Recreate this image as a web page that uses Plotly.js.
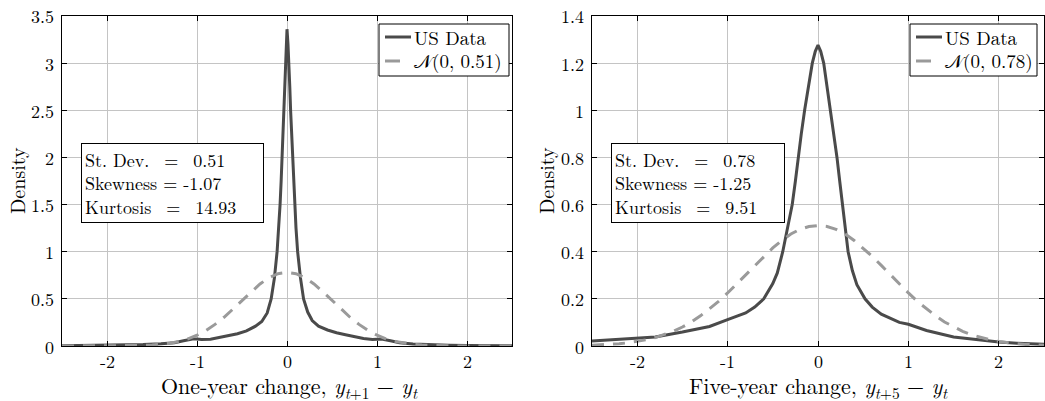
<!DOCTYPE html>
<html>
<head>
<meta charset="utf-8">
<script src="https://cdn.plot.ly/plotly-3.0.1.min.js"></script>
<style>
  html, body { margin: 0; padding: 0; background: #fff; }
  #chart { width: 1045px; height: 401px; }
  /* LaTeX-style serif face for every label in the figure */
  #chart svg text { font-family: 'Latin Modern Roman', 'Liberation Serif', serif !important; }
</style>
</head>
<body>
<div id="chart"></div>
<script>
// One-year change: empirical density
const oneYearX = [-2.5, -2.2, -2.0, -1.8, -1.6, -1.4, -1.25, -1.15, -1.05, -1.0, -0.95, -0.85, -0.75, -0.65, -0.55,
  -0.45, -0.35, -0.28, -0.22, -0.176, -0.14, -0.11, -0.09, -0.077, -0.065, -0.055, -0.045, -0.037, -0.027, -0.018,
  -0.009, 0, 0.011, 0.022, 0.031, 0.04, 0.051, 0.063, 0.074, 0.085, 0.1, 0.118, 0.15, 0.184, 0.23, 0.28, 0.35,
  0.45, 0.55, 0.65, 0.75, 0.85, 0.95, 1.0, 1.05, 1.15, 1.25, 1.4, 1.6, 1.8, 2.0, 2.2, 2.5];
const oneYearDensity = [0.003, 0.005, 0.007, 0.01, 0.015, 0.023, 0.035, 0.055, 0.075, 0.075, 0.07, 0.072, 0.09, 0.115, 0.13,
  0.16, 0.21, 0.26, 0.35, 0.5, 0.72, 1.0, 1.25, 1.5, 1.75, 2.0, 2.25, 2.5, 2.75, 3.0,
  3.22, 3.36, 3.2, 3.0, 2.75, 2.5, 2.25, 2.0, 1.75, 1.5, 1.25, 1.0, 0.72, 0.5, 0.36, 0.27, 0.21,
  0.17, 0.14, 0.12, 0.1, 0.08, 0.07, 0.072, 0.075, 0.055, 0.035, 0.02, 0.012, 0.008, 0.005, 0.003, 0.002];

// Shared grid for the normal reference curves
const normalX = [-2.5, -2.4, -2.3, -2.2, -2.1, -2.0, -1.9, -1.8, -1.7, -1.6, -1.5, -1.4, -1.3, -1.2, -1.1, -1.0,
  -0.9, -0.8, -0.7, -0.6, -0.5, -0.4, -0.3, -0.2, -0.1, 0, 0.1, 0.2, 0.3, 0.4, 0.5, 0.6, 0.7, 0.8, 0.9, 1.0,
  1.1, 1.2, 1.3, 1.4, 1.5, 1.6, 1.7, 1.8, 1.9, 2.0, 2.1, 2.2, 2.3, 2.4, 2.5];
const oneYearNormal = [0, 0, 0, 0, 0.0001, 0.0003, 0.0007, 0.0015, 0.003, 0.0057, 0.0104, 0.018, 0.03, 0.049, 0.076, 0.114,
  0.165, 0.229, 0.305, 0.392, 0.484, 0.575, 0.658, 0.724, 0.767, 0.78, 0.767, 0.724, 0.658, 0.575, 0.484, 0.392, 0.305, 0.229, 0.165, 0.114,
  0.076, 0.049, 0.03, 0.018, 0.0104, 0.0057, 0.003, 0.0015, 0.0007, 0.0003, 0.0001, 0, 0, 0, 0];

// Five-year change: empirical density
const fiveYearX = [-2.5, -2.2, -2.0, -1.8, -1.5, -1.2, -1.0, -0.8, -0.7, -0.6, -0.5, -0.45, -0.39, -0.34, -0.285,
  -0.25, -0.22, -0.185, -0.148, -0.105, -0.063, -0.03, 0, 0.03, 0.063, 0.1, 0.137, 0.175, 0.21, 0.24, 0.27, 0.3,
  0.333, 0.38, 0.43, 0.52, 0.6, 0.7, 0.8, 0.9, 1.0, 1.2, 1.5, 1.8, 2.0, 2.2, 2.5];
const fiveYearDensity = [0.021, 0.027, 0.031, 0.038, 0.059, 0.083, 0.112, 0.14, 0.165, 0.2, 0.265, 0.31, 0.4, 0.49, 0.6,
  0.7, 0.8, 0.9, 1.0, 1.1, 1.2, 1.25, 1.276, 1.25, 1.2, 1.1, 1.0, 0.9, 0.8, 0.7, 0.6, 0.5,
  0.4, 0.32, 0.26, 0.2, 0.165, 0.135, 0.116, 0.1, 0.092, 0.066, 0.038, 0.024, 0.017, 0.012, 0.007];
const fiveYearNormal = [0.003, 0.0045, 0.0066, 0.0096, 0.0137, 0.0191, 0.0263, 0.0357, 0.0476, 0.0624, 0.0805, 0.102, 0.128, 0.157, 0.189, 0.225,
  0.263, 0.302, 0.342, 0.38, 0.416, 0.448, 0.475, 0.495, 0.507, 0.511, 0.507, 0.495, 0.475, 0.448, 0.416, 0.38, 0.342, 0.302, 0.263, 0.225,
  0.189, 0.157, 0.128, 0.102, 0.0805, 0.0624, 0.0476, 0.0357, 0.0263, 0.0191, 0.0137, 0.0096, 0.0066, 0.0045, 0.003];

// Axis ticks and labels
const xTickVals = [-2, -1, 0, 1, 2];
const xTickText = ['-2', '-1', '0', '1', '2'];
const yTickVals1 = [0, 0.5, 1, 1.5, 2, 2.5, 3, 3.5];
const yTickText1 = ['0', '0.5', '1', '1.5', '2', '2.5', '3', '3.5'];
const yTickVals5 = [0, 0.2, 0.4, 0.6, 0.8, 1, 1.2, 1.4];
const yTickText5 = ['0', '0.2', '0.4', '0.6', '0.8', '1', '1.2', '1.4'];
const legendNames1 = ['US Data', '\u{1D4A9}(0, 0.51)'];
const legendNames5 = ['US Data', '\u{1D4A9}(0, 0.78)'];
const stats1 = ['St. Dev.&nbsp; = &nbsp;0.51', 'Skewness = -1.07', 'Kurtosis&nbsp; = &nbsp;14.93'];
const stats5 = ['St. Dev.&nbsp; = &nbsp;0.78', 'Skewness = -1.25', 'Kurtosis&nbsp; = &nbsp;9.51'];

const SERIF = 'Latin Modern Roman';
const dataLine = { color: '#4a4a4a', width: 3 };
const normLine = { color: '#9a9a9a', width: 3, dash: '12px,9px' };

const traces = [
  { x: oneYearX, y: oneYearDensity, type: 'scatter', mode: 'lines', name: legendNames1[0],
    line: dataLine, xaxis: 'x', yaxis: 'y' },
  { x: normalX, y: oneYearNormal, type: 'scatter', mode: 'lines', name: legendNames1[1],
    line: normLine, xaxis: 'x', yaxis: 'y' },
  { x: fiveYearX, y: fiveYearDensity, type: 'scatter', mode: 'lines', name: legendNames5[0],
    line: dataLine, xaxis: 'x2', yaxis: 'y2' },
  { x: normalX, y: fiveYearNormal, type: 'scatter', mode: 'lines', name: legendNames5[1],
    line: normLine, xaxis: 'x2', yaxis: 'y2' }
];

const W = 1045, H = 401;
const px = v => v / W;
const py = v => 1 - v / H;

const axisCommon = {
  showline: true, linecolor: '#000', linewidth: 1, mirror: 'ticks',
  ticks: 'inside', ticklen: 5, tickcolor: '#000', tickwidth: 1,
  showgrid: true, gridcolor: '#c4c4c4', gridwidth: 1,
  zeroline: false, showticklabels: false, fixedrange: true
};

const tickFont = { family: SERIF, size: 18, color: '#000' };

// Tick labels placed through the axis scales
const xTickLabels = (xref) => xTickVals.map((v, i) => ({
  xref: xref, yref: 'paper', x: v, y: py(360), xanchor: 'center', yanchor: 'middle',
  text: xTickText[i], showarrow: false, font: tickFont
}));
const yTickLabels = (yref, xEdge, vals, texts) => vals.map((v, i) => ({
  xref: 'paper', yref: yref, x: px(xEdge), y: v, xanchor: 'right', yanchor: 'middle',
  text: texts[i], showarrow: false, font: tickFont
}));

const statBox = (x, width, lines) => ({
  xref: 'paper', yref: 'paper', x: px(x), y: py(143), xanchor: 'left', yanchor: 'top',
  width: width, text: lines.join('<br>'), showarrow: false, align: 'left',
  bordercolor: '#000', borderwidth: 1, borderpad: 3, bgcolor: '#fff',
  font: { family: SERIF, size: 18, color: '#000' }
});

const axisTitle = (x, y, text, size, angle) => ({
  xref: 'paper', yref: 'paper', x: px(x), y: py(y), xanchor: 'center', yanchor: 'middle',
  text: text, showarrow: false, textangle: angle || 0,
  font: { family: SERIF, size: size, color: '#000' }
});

// Compact boxed legend: frame, line swatches and entry labels
const legendBox = (left, right, names) => ({
  shapes: [
    { type: 'rect', xref: 'paper', yref: 'paper', x0: px(left), x1: px(right), y0: py(76), y1: py(24),
      line: { color: '#000', width: 1 }, fillcolor: '#fff', layer: 'above' },
    { type: 'line', xref: 'paper', yref: 'paper', x0: px(left + 6), x1: px(left + 32), y0: py(37), y1: py(37),
      line: { color: dataLine.color, width: dataLine.width }, layer: 'above' },
    { type: 'line', xref: 'paper', yref: 'paper', x0: px(left + 6), x1: px(left + 32), y0: py(61), y1: py(61),
      line: { color: normLine.color, width: normLine.width, dash: '15px,12px' }, layer: 'above' }
  ],
  annotations: names.map((n, i) => ({
    xref: 'paper', yref: 'paper', x: px(left + 33), y: py(i === 0 ? 37 : 61), xanchor: 'left', yanchor: 'middle',
    text: n, showarrow: false, font: { family: SERIF, size: 19, color: '#000' }
  }))
});
const leg1 = legendBox(379, 509, legendNames1);
const leg5 = legendBox(910, 1037, legendNames5);

const layout = {
  width: W, height: H,
  margin: { l: 0, r: 0, t: 0, b: 0 },
  paper_bgcolor: '#fff', plot_bgcolor: '#fff',
  font: { family: SERIF, color: '#000' },
  showlegend: false,
  xaxis: Object.assign({}, axisCommon, { domain: [px(62), px(512)], range: [-2.5, 2.5], tickvals: xTickVals, anchor: 'y' }),
  yaxis: Object.assign({}, axisCommon, { domain: [1 - 346 / H, 1 - 16 / H], range: [0, 3.5], tickvals: yTickVals1, anchor: 'x' }),
  xaxis2: Object.assign({}, axisCommon, { domain: [px(592), px(1044)], range: [-2.5, 2.5], tickvals: xTickVals, anchor: 'y2' }),
  yaxis2: Object.assign({}, axisCommon, { domain: [1 - 346 / H, 1 - 16 / H], range: [0, 1.4], tickvals: yTickVals5, anchor: 'x2' }),
  shapes: [...leg1.shapes, ...leg5.shapes],
  annotations: [
    ...xTickLabels('x'),
    ...xTickLabels('x2'),
    ...yTickLabels('y', 56, yTickVals1, yTickText1),
    ...yTickLabels('y2', 586, yTickVals5, yTickText5),
    ...leg1.annotations,
    ...leg5.annotations,
    statBox(81, 175, stats1),
    statBox(611, 166, stats5),
    axisTitle(16, 181, 'Density', 20, -90),
    axisTitle(545, 181, 'Density', 20, -90),
    axisTitle(289, 386, 'One-year change, <i>y</i><sub><i>t</i>+1</sub> \u2212 <i>y</i><sub><i>t</i></sub>', 22),
    axisTitle(818, 386, 'Five-year change, <i>y</i><sub><i>t</i>+5</sub> \u2212 <i>y</i><sub><i>t</i></sub>', 22)
  ]
};

Plotly.newPlot('chart', traces, layout, { displayModeBar: false, staticPlot: true });
</script>
</body>
</html>
